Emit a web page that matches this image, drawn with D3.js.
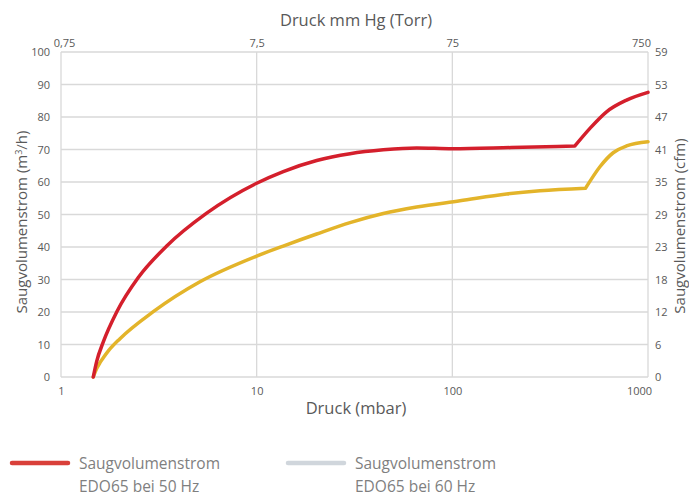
<!DOCTYPE html>
<html><head><meta charset="utf-8">
<script src="https://cdn.jsdelivr.net/npm/d3@7/dist/d3.min.js"></script>
<style>
body{margin:0;background:#fff;}
text{font-family:"Open Sans",Lato,sans-serif;}
</style></head>
<body><svg id="c" width="689" height="497"></svg>
<script>
// ---- data ----
const xTicksMbar = [1, 10, 100, 1000];
const xTickLabelsBottom = ["1", "10", "100", "1000"];
const xTickLabelsTop = ["0,75", "7,5", "75", "750"];
const yTicks = [0, 10, 20, 30, 40, 50, 60, 70, 80, 90, 100];
const yTickLabelsCfm = ["0", "6", "12", "18", "23", "29", "35", "41", "47", "53", "59"];

const seriesNames = ["Saugvolumenstrom\nEDO65 bei 50 Hz", "Saugvolumenstrom\nEDO65 bei 60 Hz"];

const pressure50 = [1.462, 1.522, 1.645, 1.926, 2.483, 3.469, 5.553, 10, 13.67, 20.26, 30, 44.37, 65.7, 100, 200, 423, 505, 614, 777, 1000];
const flow50     = [0, 4.8, 10.8, 20.0, 30.6, 40.3, 50.4, 59.6, 63.2, 66.6, 68.7, 69.9, 70.5, 70.2, 70.6, 71.1, 76.5, 81.6, 85.2, 87.6];
const kinkPressure50 = 423;

const pressure60 = [1.462, 1.522, 1.582, 1.645, 1.75, 2.002, 2.962, 5.13, 10, 13.67, 20.26, 30, 44.37, 65.7, 109.4, 189.4, 280.3, 479.8, 568, 664, 777, 1000];
const flow60     = [0, 2.6, 4.4, 5.9, 8.1, 11.8, 20.1, 29.3, 37.2, 40.3, 44.0, 47.5, 50.3, 52.3, 54.2, 56.3, 57.3, 58.1, 64.7, 69.0, 71.1, 72.4];
const kinkPressure60 = 479.8;

const lineColors = ["#d41f2c", "#e3b42a"];
const legendColors = ["#d9403a", "#d0d6dc"];

// ---- layout ----
const svg = d3.select("#c");
const L = 61, R = 648, T = 52, B = 377;
const x = d3.scaleLog().domain([1, 1000]).range([L, R]);
const y = d3.scaleLinear().domain([0, 100]).range([B, T]);
const grid = "#d9d9d9", txt = "#595959";

// gridlines
svg.append("g").selectAll("line").data(yTicks).join("line")
  .attr("x1", L).attr("x2", R).attr("y1", d => y(d)).attr("y2", d => y(d))
  .attr("stroke", grid).attr("stroke-width", 1.3);
svg.append("g").selectAll("line").data(xTicksMbar).join("line")
  .attr("y1", T).attr("y2", B).attr("x1", d => x(d)).attr("x2", d => x(d))
  .attr("stroke", grid).attr("stroke-width", 1.3);

// axes
function styleAxis(g){ g.select(".domain").remove(); g.selectAll("line").remove();
  g.selectAll("text").attr("fill", txt).style("font-size", "11px"); }

const bottomAxis = svg.append("g").attr("transform", `translate(0,${B})`)
  .call(d3.axisBottom(x).tickValues(xTicksMbar).tickSize(0).tickPadding(10)
    .tickFormat((d, i) => xTickLabelsBottom[i])).call(styleAxis);
bottomAxis.selectAll("text").attr("dx", (d, i) => i === xTicksMbar.length - 1 ? -9 : 0);

const topAxis = svg.append("g").attr("transform", `translate(0,${T})`)
  .call(d3.axisTop(x).tickValues(xTicksMbar).tickSize(0).tickPadding(5)
    .tickFormat((d, i) => xTickLabelsTop[i])).call(styleAxis);
topAxis.selectAll("text").attr("dx", (d, i) => i === 0 ? 3 : (i === xTicksMbar.length - 1 ? -7 : 0));

svg.append("g").attr("transform", `translate(${L},0)`)
  .call(d3.axisLeft(y).tickValues(yTicks).tickSize(0).tickPadding(11)).call(styleAxis);

svg.append("g").attr("transform", `translate(${R},0)`)
  .call(d3.axisRight(y).tickValues(yTicks).tickSize(0).tickPadding(7)
    .tickFormat((d, i) => yTickLabelsCfm[i])).call(styleAxis);

// titles
svg.append("text").attr("x", 356).attr("y", 26).attr("text-anchor", "middle")
  .attr("fill", txt).style("font-size", "16.5px").text("Druck mm Hg (Torr)");
svg.append("text").attr("x", 356).attr("y", 414).attr("text-anchor", "middle")
  .attr("fill", txt).style("font-size", "16.5px").text("Druck (mbar)");
svg.append("text").attr("transform", "translate(27,222) rotate(-90)").attr("text-anchor", "middle")
  .attr("fill", txt).style("font-size", "15px")
  .html('Saugvolumenstrom (m<tspan dy="-5" font-size="9px">3</tspan><tspan dy="5">/h)</tspan>');
svg.append("text").attr("transform", "translate(685,226) rotate(-90)").attr("text-anchor", "middle")
  .attr("fill", txt).style("font-size", "15px").text("Saugvolumenstrom (cfm)");

// lines (each curve is drawn in two smooth pieces that meet at its kink)
const line = d3.line().x(d => x(d[0])).y(d => y(d[1])).curve(d3.curveMonotoneX);
function pieces(ps, vs, kink){
  const pts = d3.zip(ps, vs);
  return [pts.filter(d => d[0] <= kink), pts.filter(d => d[0] >= kink)];
}
const drawOrder = [
  {pts: pieces(pressure60, flow60, kinkPressure60), color: lineColors[1]},
  {pts: pieces(pressure50, flow50, kinkPressure50), color: lineColors[0]}
];
drawOrder.forEach(s => {
  svg.append("path").attr("fill", "none").attr("stroke", s.color)
    .attr("stroke-width", 3.5).attr("stroke-linejoin", "round").attr("stroke-linecap", "round")
    .attr("d", s.pts.map(p => line(p)).join(""));
});

// legend
const legX = [12, 288];
seriesNames.forEach((name, i) => {
  const g = svg.append("g").attr("transform", `translate(${legX[i]},0)`);
  g.append("line").attr("x1", 0).attr("x2", 56).attr("y1", 463).attr("y2", 463)
    .attr("stroke", legendColors[i]).attr("stroke-width", 4.5).attr("stroke-linecap", "round");
  name.split("\n").forEach((t, k) => {
    g.append("text").attr("x", 67).attr("y", 469 + k * 23).attr("fill", "#7f7f7f")
      .style("font-size", "15.5px").text(t);
  });
});
</script></body></html>
